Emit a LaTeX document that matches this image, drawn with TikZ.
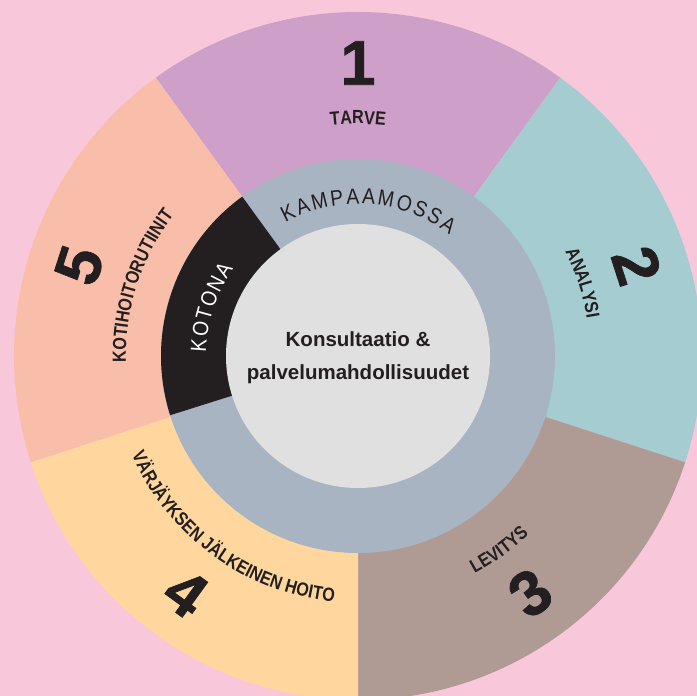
\documentclass[tikz,border=0pt]{standalone}
\usepackage{fontspec}
\setmainfont{Liberation Sans}
\newfontfamily\condfont{Liberation Sans}[FakeStretch=0.85]
\newfontfamily\ringfam{Liberation Sans}[FakeStretch=0.88]
\newfontfamily\digitfont{Liberation Sans}[UprightFont={* Bold}, FakeBold=1.2]
\usetikzlibrary{decorations.text}
\definecolor{bgpink}{HTML}{F8C8DA}
\definecolor{segA}{HTML}{CE9FC8}
\definecolor{segB}{HTML}{A4CCD1}
\definecolor{segC}{HTML}{B09B94}
\definecolor{segD}{HTML}{FFD79E}
\definecolor{segE}{HTML}{F9BEAA}
\definecolor{ringc}{HTML}{A9B4C2}
\definecolor{innerc}{HTML}{E0E0E0}
\definecolor{kblack}{HTML}{231F20}
\definecolor{txtdark}{HTML}{231F20}
\newcommand\lblstyle{\condfont\bfseries\fontsize{19pt}{22pt}\selectfont\color{txtdark}}
\newcommand\ringstyle{\ringfam\fontsize{22pt}{26pt}\selectfont}
\tikzset{
  digit/.style={font=\digitfont\fontsize{63pt}{70pt}\selectfont, text=txtdark, inner sep=0pt},
  ctext/.style={font=\bfseries\fontsize{20.5pt}{24pt}\selectfont, text=txtdark, inner sep=0pt, anchor=base},
}
\begin{document}
\begin{tikzpicture}[x=1pt,y=1pt]
\useasboundingbox (0,0) rectangle (697,696);
\clip (0,0) rectangle (697,696);
\fill[bgpink] (0,0) rectangle (697,696);
\coordinate (c) at (358,340);
% outer segments
\fill[segA] (c) -- ([shift={(54:344)}]c) arc[start angle=54,end angle=126,radius=344] -- cycle;
\fill[segB] (c) -- ([shift={(-18:344)}]c) arc[start angle=-18,end angle=54,radius=344] -- cycle;
\fill[segC] (c) -- ([shift={(-90:344)}]c) arc[start angle=-90,end angle=-18,radius=344] -- cycle;
\fill[segD] (c) -- ([shift={(-162:344)}]c) arc[start angle=-162,end angle=-90,radius=344] -- cycle;
\fill[segE] (c) -- ([shift={(126:344)}]c) arc[start angle=126,end angle=198,radius=344] -- cycle;
% ring
\fill[ringc] (c) circle[radius=197];
\fill[kblack] (c) -- ([shift={(126:197)}]c) arc[start angle=126,end angle=197.5,radius=197] -- cycle;
\fill[innerc] (c) circle[radius=132];
% ring texts
\path[decorate, decoration={text along path, text align={fit to path},
  text={|\ringstyle\color{txtdark}|KAMPAAMOSSA}}]
  ([shift={(118.5:152)}]c) arc[start angle=118.5,end angle=53,radius=152];
\path[decorate, decoration={text along path, text align={fit to path},
  text={|\ringstyle\color{white}|KOTONA}}]
  ([shift={(178.5:152)}]c) arc[start angle=178.5,end angle=145,radius=152];
% segment labels
\path[decorate, decoration={text along path, text align=center, text={|\lblstyle|TARVE}}]
  ([shift={(126:232)}]c) arc[start angle=126,end angle=54,radius=232];
\path[decorate, decoration={text along path, text align=center, text={|\lblstyle|ANALYSI}}]
  ([shift={(54:232)}]c) arc[start angle=54,end angle=-18,radius=232];
\path[decorate, decoration={text along path, text align=center, text={|\lblstyle|LEVITYS}}]
  ([shift={(-90:247)}]c) arc[start angle=-90,end angle=-18,radius=247];
\path[decorate, decoration={text along path, text align=center, text={|\lblstyle|VÄRJÄYKSEN JÄLKEINEN HOITO}}]
  ([shift={(-162:247)}]c) arc[start angle=-162,end angle=-90,radius=247];
\path[decorate, decoration={text along path, text align=center, text={|\lblstyle|KOTIHOITORUTIINIT}}]
  ([shift={(198:232)}]c) arc[start angle=198,end angle=126,radius=232];
% digits
\node[digit, rotate=0] (d1) at ([shift={(90:293)}]c) {1};
\node[digit, rotate=-72] (d2) at ([shift={(18:293)}]c) {2};
\node[digit, rotate=36] (d3) at ([shift={(-54:293)}]c) {3};
\node[digit, rotate=-36] (d4) at ([shift={(-126:293)}]c) {4};
\node[digit, rotate=72] (d5) at ([shift={(162:293)}]c) {5};
% centre text
\node[ctext] (ct1) at (358,349) {Konsultaatio \&};
\node[ctext] (ct2) at (358,316) {palvelumahdollisuudet};
\end{tikzpicture}
\end{document}
